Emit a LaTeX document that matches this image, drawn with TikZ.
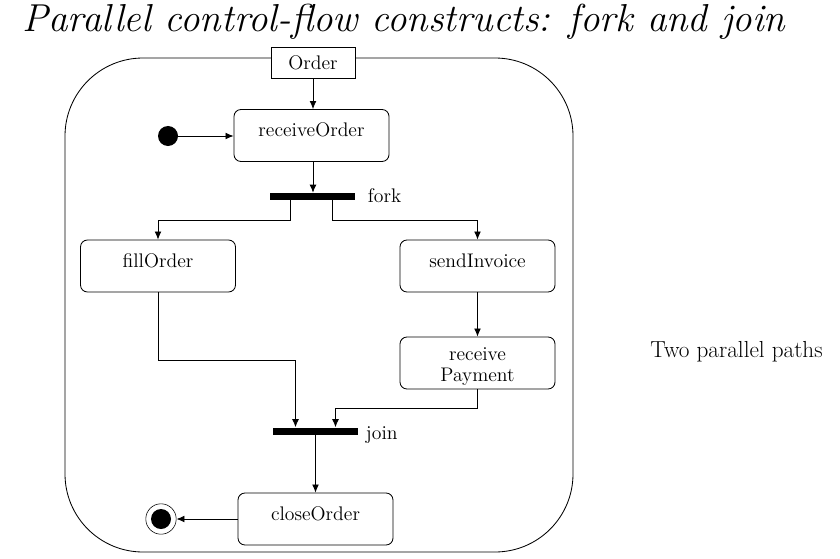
\documentclass[tikz,border=0pt]{standalone}
\usepackage{tikz}
\usetikzlibrary{shapes.geometric, arrows.meta}
\tikzstyle{act} = [rectangle, rounded corners=5pt, draw, semithick, minimum width=3.875cm, minimum height=1.3cm, inner sep=0pt, align=center, font=\fontsize{14}{15}\selectfont]
\tikzstyle{acttop} = [act, text height=17pt, text depth=15pt]
\tikzstyle{obj} = [rectangle, draw, semithick, fill=white, minimum width=2.1cm, minimum height=0.775cm, inner sep=0pt, font=\fontsize{14}{17}\selectfont]
\tikzstyle{bar} = [rectangle, fill=black, minimum width=2.125cm, minimum height=0.175cm, inner sep=0pt]
\tikzstyle{startdot} = [shape=circle, fill=black, minimum size=0.5cm, inner sep=0]
\tikzstyle{enddot} = [shape=circle, draw, minimum size=0.76cm, inner sep=0]
\tikzstyle{lbl} = [font=\fontsize{14}{17}\selectfont]
\tikzstyle{arrow} = [semithick, -{Latex[length=2mm,width=1.7mm]}]

\begin{document}
\begin{tikzpicture}[x=0.025cm,y=-0.025cm]
\useasboundingbox (0,0) rectangle (840,558);

\node[font=\fontsize{27.7}{33}\selectfont\itshape] (title) at (404,22) {Parallel control-flow constructs: fork and join};

\draw[semithick, rounded corners=1.95cm] (65,58) rectangle (573,552);
\node[obj] (order) at (313,63) {Order};

\node[startdot] (start) at (168,136) {};
\node[acttop] (recv) at (311.5,135.5) {receiveOrder};
\node[bar] (fork) at (312.5,196.5) {};
\node[lbl, anchor=west] (forklbl) at (363,196) {fork};

\node[acttop] (fill) at (158,266) {fillOrder};
\node[acttop] (send) at (477.5,266) {sendInvoice};
\node[act, text height=30pt, text depth=3pt] (pay) at (477.5,363) {receive\\Payment};

\node[bar] (join) at (315.5,431) {};
\node[lbl, anchor=west] (joinlbl) at (361,435) {join};

\node[acttop] (close) at (315.5,519) {closeOrder};
\node[enddot] (final) at (161,519) {};
\fill (final) circle (0.25cm);

\node[lbl, font=\fontsize{16.5}{20}\selectfont] (note) at (736.5,352) {Two parallel paths};

\draw[arrow] (order) -- (order |- recv.north);
\draw[arrow] (start) -- (start -| recv.west);
\draw[arrow] (order |- recv.south) -- (order |- fork.north);
\draw[arrow] ([xshift=-.55cm]fork.south) -- ++(0,-0.5cm) -| (fill.north);
\draw[arrow] ([xshift=.5cm]fork.south) -- ++(0,-0.5cm) -| (send.north);
\draw[arrow] (fill.south) -- ++(0,-1.7cm) -| ([xshift=-.5cm]join.north);
\draw[arrow] (send) -- (pay);
\draw[arrow] (pay.south) -- ++(0,-0.475cm) -| ([xshift=.5cm]join.north);
\draw[arrow] (join) -- (close);
\draw[arrow] (close) -- (final);

\end{tikzpicture}
\end{document}
